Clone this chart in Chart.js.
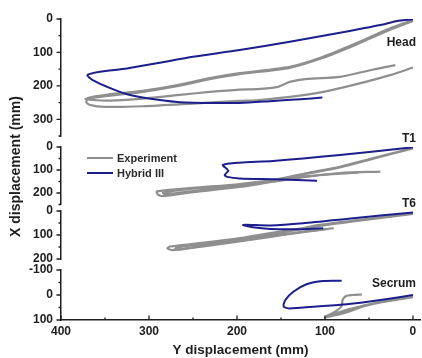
<!DOCTYPE html>
<html lang="en">
  <head>
    <meta charset="UTF-8" />
    <title>Trajectories</title>
    <script src="https://cdn.jsdelivr.net/npm/chart.js@4/dist/chart.umd.min.js"></script>
    <style>
      html,
      body {
        margin: 0;
        padding: 0;
        background: #fff;
      }
    </style>
  </head>
  <body>
    <canvas id="chart" width="422" height="358"></canvas>
    <script>
      // [Y displacement, X displacement] in mm
      const headHybrid = [[0, 1], [18, 6], [37, 18], [83, 41], [140, 68], [197, 93], [250, 113], [288, 131], [325, 148], [356, 158], [370, 168], [364, 183], [344, 207], [325, 225], [302, 237], [268, 248], [231, 251], [197, 251], [159, 245], [128, 240], [103, 235]];
      const headExpA = [[0, 3], [26, 28], [64, 72], [102, 113], [140, 143], [197, 162], [231, 177], [268, 198], [307, 215], [344, 225], [369, 236], [371, 250], [362, 260], [344, 263], [307, 261], [250, 253], [197, 245], [177, 243], [140, 233], [102, 218], [64, 195], [26, 168], [0, 145]];
      const headExpB = [[0, 6], [26, 32], [64, 76], [102, 116], [140, 146], [197, 165], [231, 180], [268, 201], [307, 218], [344, 229], [372, 239], [360, 243], [344, 244], [307, 238], [268, 228], [231, 218], [197, 211], [177, 210], [155, 204], [140, 188], [120, 179], [83, 173], [45, 151], [20, 138]];

      const t1Hybrid = [[0, 1], [83, 35], [159, 61], [197, 68], [216, 78], [210, 103], [214, 122], [211, 130], [197, 137], [159, 140], [140, 142], [109, 147]];
      const t1ExpA = [[0, 4], [45, 48], [83, 86], [120, 113], [159, 143], [197, 161], [250, 178], [291, 193], [290, 206], [285, 213], [250, 196], [197, 174], [159, 151], [120, 129], [83, 113], [37, 107]];
      const t1ExpB = [[0, 6], [45, 51], [83, 89], [120, 116], [159, 146], [197, 164], [250, 181], [284, 198], [282, 205], [242, 188], [197, 168], [159, 149], [120, 127], [83, 116], [62, 112]];

      const t6Hybrid = [[0, 6], [68, 30], [125, 51], [162, 60], [193, 58], [182, 68], [162, 75], [125, 76], [102, 72]];
      const t6ExpA = [[0, 10], [68, 40], [106, 58], [125, 71], [162, 92], [197, 113], [230, 129], [276, 148], [279, 156], [273, 163], [230, 143], [197, 127], [162, 108], [125, 88], [98, 75]];
      const t6ExpB = [[0, 12], [68, 43], [106, 62], [125, 75], [162, 96], [197, 117], [230, 134], [268, 151], [270, 158], [264, 160], [230, 140], [197, 124], [160, 104], [120, 84], [90, 72]];

      const sacHybrid = [[0, 0], [37, 20], [75, 37], [114, 47], [140, 54], [147, 46], [145, 20], [136, -13], [121, -43], [102, -56], [81, -57]];
      const sacExpA = [[0, 7], [38, 28], [72, 56], [98, 84], [89, 68], [81, 44], [80, 20], [76, 4], [69, 0], [58, -2]];
      const sacExpB = [[0, 9], [38, 31], [72, 60], [100, 90], [82, 76], [66, 58], [53, 40]];

      const xTicks = [400, 300, 200, 100, 0];
      const xMinor = [350, 250, 150, 50];
      const headTicks = [0, 100, 200, 300];
      const headMinor = [50, 150, 250, 350];
      const t1Ticks = [0, 100, 200];
      const t1Minor = [50, 150, 250];
      const t6Ticks = [0, 100, 200];
      const t6Minor = [50, 150];
      const sacTicks = [-100, 0, 100];
      const sacMinor = [-50, 50];

      const panelNames = ["Head", "T1", "T6", "Secrum"];
      const seriesNames = ["Experiment", "Hybrid III"];

      const BLUE = "#1c1e8c";
      const GRAY = "#8f8f8f";
      const INK = "#1e1e1e";
      const FONT = "'Liberation Sans', Arial, sans-serif";

      const toXY = (pts) => pts.map(([x, y]) => ({ x, y }));

      function trace(pts, axis, hybrid) {
        return {
          data: toXY(pts),
          yAxisID: axis,
          showLine: true,
          borderColor: hybrid ? BLUE : GRAY,
          borderWidth: hybrid ? 2 : 2.2,
          pointRadius: 0,
          tension: 0.25,
          order: hybrid ? 0 : 1,
        };
      }

      function fixedTicks(values) {
        return (scale) => {
          scale.ticks = values.map((v) => ({ value: v }));
        };
      }

      function panelAxis(min, max, weight, ticks) {
        return {
          type: "linear",
          position: "left",
          stack: "panels",
          stackWeight: weight,
          reverse: true,
          min,
          max,
          afterBuildTicks: fixedTicks(ticks),
          afterFit: (scale) => {
            scale.width = 61;
          },
          grid: { display: false, drawTicks: false },
          border: { display: true, color: INK, width: 1.5 },
          ticks: {
            autoSkip: false,
            padding: 8,
            color: INK,
            font: { family: FONT, size: 12, weight: "bold" },
          },
        };
      }

      // empty slot between two panels
      function gapAxis(weight) {
        return {
          type: "linear",
          position: "left",
          stack: "panels",
          stackWeight: weight,
          display: false,
        };
      }

      const tickSets = [
        ["yHead", headTicks, headMinor],
        ["yT1", t1Ticks, t1Minor],
        ["yT6", t6Ticks, t6Minor],
        ["ySac", sacTicks, sacMinor],
      ];

      const decorations = {
        id: "decorations",
        afterDraw(chart) {
          const { ctx, chartArea, scales } = chart;
          ctx.save();
          ctx.strokeStyle = INK;
          ctx.lineWidth = 1.3;

          // y ticks point outwards
          for (const [id, major, minor] of tickSets) {
            const s = scales[id];
            ctx.beginPath();
            major.forEach((v) => {
              const y = s.getPixelForValue(v);
              ctx.moveTo(s.right - 4.5, y);
              ctx.lineTo(s.right, y);
            });
            minor.forEach((v) => {
              const y = s.getPixelForValue(v);
              ctx.moveTo(s.right - 2.5, y);
              ctx.lineTo(s.right, y);
            });
            ctx.stroke();
          }

          // x ticks point inwards
          const sx = scales.x;
          ctx.beginPath();
          xTicks.forEach((v) => {
            const x = sx.getPixelForValue(v);
            ctx.moveTo(x, sx.top);
            ctx.lineTo(x, sx.top - 4.5);
          });
          xMinor.forEach((v) => {
            const x = sx.getPixelForValue(v);
            ctx.moveTo(x, sx.top);
            ctx.lineTo(x, sx.top - 2.5);
          });
          ctx.stroke();

          // panel names
          ctx.fillStyle = INK;
          ctx.font = `bold 12px ${FONT}`;
          ctx.textAlign = "right";
          ctx.textBaseline = "middle";
          const nameY = [
            scales.yHead.getPixelForValue(72),
            scales.yT1.top - 8,
            scales.yT6.top - 7,
            scales.ySac.getPixelForValue(-46),
          ];
          panelNames.forEach((name, i) => {
            ctx.fillText(name, chartArea.right - 4, nameY[i]);
          });

          // legend
          const lx = chartArea.left + 26;
          const ly = scales.yT1.top + 11;
          ctx.font = `bold 11px ${FONT}`;
          ctx.textAlign = "left";
          [GRAY, BLUE].forEach((color, i) => {
            const y = ly + i * 15;
            ctx.strokeStyle = color;
            ctx.lineWidth = 2;
            ctx.beginPath();
            ctx.moveTo(lx, y);
            ctx.lineTo(lx + 26, y);
            ctx.stroke();
            ctx.fillStyle = "#2a2a2a";
            ctx.fillText(seriesNames[i], lx + 30, y + 0.5);
          });

          // shared y title
          ctx.fillStyle = INK;
          ctx.font = `bold 14px ${FONT}`;
          ctx.textAlign = "center";
          ctx.translate(16, (chartArea.top + chartArea.bottom) / 2 - 3);
          ctx.rotate(-Math.PI / 2);
          ctx.fillText("X displacement (mm)", 0, 0);
          ctx.restore();
        },
      };

      new Chart(document.getElementById("chart"), {
        type: "scatter",
        data: {
          datasets: [
            trace(headHybrid, "yHead", true),
            trace(t1Hybrid, "yT1", true),
            trace(t6Hybrid, "yT6", true),
            trace(sacHybrid, "ySac", true),
            trace(headExpA, "yHead", false),
            trace(headExpB, "yHead", false),
            trace(t1ExpA, "yT1", false),
            trace(t1ExpB, "yT1", false),
            trace(t6ExpA, "yT6", false),
            trace(t6ExpB, "yT6", false),
            trace(sacExpA, "ySac", false),
            trace(sacExpB, "ySac", false),
          ],
        },
        options: {
          responsive: false,
          animation: false,
          layout: { padding: { top: 19, right: 2, bottom: 0, left: 0 } },
          plugins: {
            legend: { display: false },
            tooltip: { enabled: false },
          },
          scales: {
            x: {
              type: "linear",
              reverse: true,
              min: -8,
              max: 400,
              afterBuildTicks: fixedTicks(xTicks),
              afterFit: (scale) => {
                scale.height = 38;
              },
              grid: { display: false, drawTicks: false },
              border: { display: true, color: INK, width: 1.5 },
              ticks: {
                autoSkip: false,
                maxRotation: 0,
                padding: 4,
                color: INK,
                font: { family: FONT, size: 12, weight: "bold" },
              },
              title: {
                display: true,
                text: "Y displacement (mm)",
                color: INK,
                padding: { top: 0, bottom: 0 },
                font: { family: FONT, size: 13.5, weight: "bold" },
              },
            },
            // stacked bottom to top
            ySac: panelAxis(-100, 100, 50, sacTicks),
            yGap3: gapAxis(11),
            yT6: panelAxis(0, 200, 48, t6Ticks),
            yGap2: gapAxis(6.5),
            yT1: panelAxis(0, 250, 57.5, t1Ticks),
            yGap1: gapAxis(11),
            yHead: panelAxis(0, 350, 117, headTicks),
          },
        },
        plugins: [decorations],
      });
    </script>
  </body>
</html>
